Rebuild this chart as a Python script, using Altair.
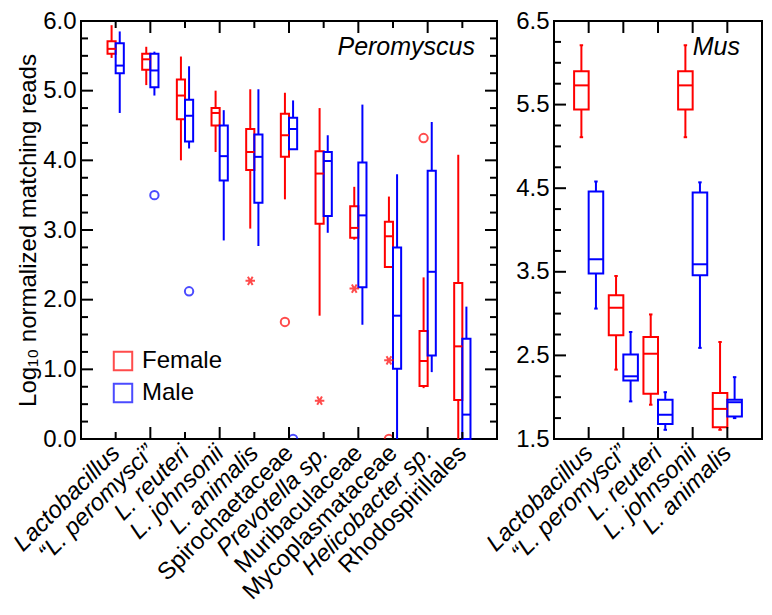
import altair as alt
import pandas as pd

SEXES = ["Female", "Male"]
COLORS = ["#ff0000", "#0000ff"]
FONT = "Liberation Sans"

# ---------------- Peromyscus (left panel) ----------------
per_taxa = ["Lactobacillus", "\u201cL. peromysci\u201d", "L. reuteri", "L. johnsonii",
            "L. animalis", "Spirochaetaceae", "Prevotella sp.", "Muribaculaceae",
            "Mycoplasmataceae", "Helicobacter sp.", "Rhodospirillales"]
# Female: whisker low, Q1, median, Q3, whisker high
pf_wlo = [5.47, 5.08, 4.00, 4.12, 3.02, 3.44, 1.77, 2.86, 2.47, 0.73, 0.00]
pf_q1 = [5.53, 5.30, 4.59, 4.50, 3.86, 4.05, 3.09, 2.89, 2.47, 0.76, 0.56]
pf_med = [5.60, 5.45, 4.93, 4.68, 4.12, 4.36, 3.81, 3.03, 2.91, 1.12, 1.33]
pf_q3 = [5.71, 5.53, 5.16, 4.75, 4.45, 4.67, 4.13, 3.34, 3.12, 1.55, 2.24]
pf_whi = [5.94, 5.63, 5.49, 5.00, 5.02, 4.97, 4.75, 3.62, 3.48, 2.32, 4.08]
# Male
pm_wlo = [4.68, 4.93, 4.17, 2.85, 2.77, 4.16, 2.96, 1.64, 0.00, 0.96, 0.00]
pm_q1 = [5.25, 5.05, 4.27, 3.71, 3.39, 4.16, 3.20, 2.18, 1.01, 1.20, 0.00]
pm_med = [5.36, 5.29, 4.64, 4.06, 4.05, 4.45, 3.99, 3.21, 1.77, 2.40, 0.35]
pm_q3 = [5.68, 5.53, 4.87, 4.50, 4.37, 4.61, 4.12, 3.97, 2.75, 3.85, 1.44]
pm_whi = [5.85, 5.56, 5.35, 4.72, 5.02, 4.86, 4.36, 4.80, 3.80, 4.55, 1.90]
# outliers: taxon index (1-based), sex, value, symbol
per_out_pos = [2, 3, 5, 6, 6, 7, 8, 9, 9, 10]
per_out_sex = ["Male", "Male", "Female", "Female", "Male", "Female", "Female", "Female", "Female", "Female"]
per_out_val = [3.50, 2.12, 2.27, 1.68, 0.00, 0.55, 2.16, 1.13, 0.00, 4.32]
per_out_sym = ["o", "o", "*", "o", "o", "*", "*", "*", "o", "o"]
per_yticks = [0.0, 1.0, 2.0, 3.0, 4.0, 5.0, 6.0]

# ---------------- Mus (right panel) ----------------
mus_taxa = ["Lactobacillus", "\u201cL. peromysci\u201d", "L. reuteri", "L. johnsonii", "L. animalis"]
mf_wlo = [5.11, 2.33, 1.91, 5.11, 1.61]
mf_q1 = [5.44, 2.74, 2.04, 5.44, 1.64]
mf_med = [5.73, 3.07, 2.52, 5.73, 1.86]
mf_q3 = [5.90, 3.22, 2.72, 5.90, 2.05]
mf_whi = [6.21, 3.45, 2.99, 6.21, 2.66]
mm_wlo = [3.06, 1.95, 1.61, 2.59, 1.75]
mm_q1 = [3.48, 2.20, 1.68, 3.46, 1.77]
mm_med = [3.65, 2.25, 1.79, 3.59, 1.94]
mm_q3 = [4.46, 2.51, 1.97, 4.45, 1.97]
mm_whi = [4.58, 2.78, 2.06, 4.57, 2.24]
mus_yticks = [1.5, 2.5, 3.5, 4.5, 5.5, 6.5]

STAR = "M-1,0L1,0M-0.5,-0.866L0.5,0.866M-0.5,0.866L0.5,-0.866"


def box_frame(taxa, f, m):
    rows = []
    for i in range(len(taxa)):
        for sex, s in (("Female", f), ("Male", m)):
            rows.append(dict(pos=i + 1, sex=sex, wlo=s[0][i], q1=s[1][i],
                             med=s[2][i], q3=s[3][i], whi=s[4][i]))
    return pd.DataFrame(rows)


per_box = box_frame(per_taxa, (pf_wlo, pf_q1, pf_med, pf_q3, pf_whi),
                    (pm_wlo, pm_q1, pm_med, pm_q3, pm_whi))
mus_box = box_frame(mus_taxa, (mf_wlo, mf_q1, mf_med, mf_q3, mf_whi),
                    (mm_wlo, mm_q1, mm_med, mm_q3, mm_whi))
per_out = pd.DataFrame(dict(pos=per_out_pos, sex=per_out_sex, val=per_out_val, sym=per_out_sym))


def label_expr(names):
    arr = ",".join("'" + n + "'" for n in names)
    return f"[{arr}][datum.value - 1]"


def panel(box_df, out_df, names, ydom, ylabels, ystep, xmax, width, height, bw,
          label_text, fontstyle, right_ticks, x_minor_alt, caps, legend, ytitle):
    xs = alt.Scale(domain=[0, xmax], nice=False, zero=False)
    ys = alt.Scale(domain=ydom, nice=False, zero=False)
    half = bw / 2
    calc = dict(
        c=f"datum.pos + (datum.sex == 'Female' ? {-half} : {half})",
        xa=f"datum.pos - (datum.sex == 'Female' ? {bw} : 0)",
        xb=f"datum.pos + (datum.sex == 'Female' ? 0 : {bw})",
    )
    sscale = alt.Scale(domain=SEXES, range=COLORS)

    xaxis = alt.Axis(values=list(range(1, len(names) + 1)), labelExpr=label_expr(names),
                     labelAngle=-45, labelAlign="right", labelBaseline="middle",
                     labelFontSize=24, labelFontStyle=fontstyle, labelPadding=10,
                     labelLimit=400, ticks=False, domain=False, grid=False, title=None,
                     labelFont=FONT, labelColor="black", labelOverlap=False)
    yaxis_kw = dict(values=ylabels, format=".1f", ticks=False, domain=False, grid=False,
                    labelFontSize=24, labelPadding=5, labelFont=FONT, labelColor="black")
    if ytitle:
        yaxis = alt.Axis(title=ytitle, titleFontSize=24, titleFontWeight="normal",
                         titleFont=FONT, titlePadding=2, titleColor="black", **yaxis_kw)
    else:
        yaxis = alt.Axis(title=None, **yaxis_kw)

    if legend:
        leg = alt.Legend(
            orient="none", legendX=30, legendY=328, title=None, symbolType="square",
            symbolSize=340, symbolStrokeWidth=2, labelFontSize=24, labelFont=FONT,
            labelColor="black", rowPadding=4, labelOffset=7, padding=0)
    else:
        leg = None

    def X(f):
        return alt.X(f, scale=xs, axis=xaxis)

    def Y(f):
        return alt.Y(f, scale=ys, axis=yaxis)

    def S():
        return alt.Stroke("sex:N", scale=sscale, legend=leg)

    base = alt.Chart(box_df).transform_calculate(**calc)

    boxes = base.mark_rect(filled=False, strokeWidth=2).encode(
        x=X("xa:Q"), x2="xb:Q", y=Y("q1:Q"), y2="q3:Q", stroke=S())
    meds = base.mark_rule(strokeWidth=2).encode(
        x=X("xa:Q"), x2="xb:Q", y=Y("med:Q"), stroke=S())
    wlo = base.mark_rule(strokeWidth=2, clip=True).encode(
        x=X("c:Q"), y=Y("wlo:Q"), y2="q1:Q", stroke=S())
    whi = base.mark_rule(strokeWidth=2, clip=True).encode(
        x=X("c:Q"), y=Y("q3:Q"), y2="whi:Q", stroke=S())
    layers = [boxes, wlo, whi, meds]

    if caps:
        cw = 0.05
        capbase = base.transform_calculate(ca=f"datum.c - {cw}", cb=f"datum.c + {cw}")
        for fld in ("wlo", "whi"):
            layers.append(capbase.mark_rule(strokeWidth=2).encode(
                x=X("ca:Q"), x2="cb:Q", y=Y(f"{fld}:Q"), stroke=S()))

    if out_df is not None:
        ob = alt.Chart(out_df).transform_calculate(**calc)
        layers.append(ob.transform_filter("datum.sym == 'o'").mark_point(
            shape="circle", filled=False, size=70, strokeWidth=2, clip=True).encode(
            x=X("c:Q"), y=Y("val:Q"), stroke=S()))
        layers.append(ob.transform_filter("datum.sym == '*'").mark_point(
            shape=STAR, filled=False, size=90, strokeWidth=2, clip=True).encode(
            x=X("c:Q"), y=Y("val:Q"), stroke=S()))

    # inward ticks
    n_minor = int(round((ydom[1] - ydom[0]) / ystep))
    ymin_vals = [ydom[0] + k * ystep for k in range(n_minor + 1)]
    ymin_vals = [v for v in ymin_vals if all(abs(v - t) > 1e-6 for t in ylabels)]
    tick_layers = []
    for vals, ln in ((ylabels, 12), (ymin_vals, 7)):
        td = alt.Chart(pd.DataFrame({"v": vals}))
        tick_layers.append(td.mark_rule(color="black", strokeWidth=2).encode(
            y=Y("v:Q"), x=alt.value(0), x2=alt.value(ln)))
        if right_ticks:
            tick_layers.append(td.mark_rule(color="black", strokeWidth=2).encode(
                y=Y("v:Q"), x=alt.value(width), x2=alt.value(width - ln)))
    xpos = list(range(1, len(names) + 1))
    if x_minor_alt:
        xmaj = [p for p in xpos if p % 2 == 0]
        xmin = [p for p in xpos if p % 2 == 1]
    else:
        xmaj, xmin = xpos, []
    for vals, ln in ((xmaj, 12), (xmin, 7)):
        if not vals:
            continue
        td = alt.Chart(pd.DataFrame({"p": vals}))
        tick_layers.append(td.mark_rule(color="black", strokeWidth=2).encode(
            x=X("p:Q"), y=alt.value(0), y2=alt.value(ln)))
        tick_layers.append(td.mark_rule(color="black", strokeWidth=2).encode(
            x=X("p:Q"), y=alt.value(height), y2=alt.value(height - ln)))

    txt = alt.Chart(pd.DataFrame({"t": [label_text]})).mark_text(
        align="right", baseline="alphabetic", fontSize=25, fontStyle="italic",
        font=FONT, color="black").encode(
        x=alt.value(width - 22), y=alt.value(34), text="t:N")

    return alt.layer(*layers, *tick_layers, txt).properties(width=width, height=height)


left = panel(per_box, per_out, per_taxa, [0, 6], per_yticks, 0.25, 12, 416, 418, 0.235,
             "Peromyscus",
             {"condition": {"test": "indexof([6, 8, 9, 11], datum.value) < 0", "value": "italic"},
              "value": "normal"},
             True, True, False, True, "Log\u2081\u2080 normalized matching reads")
right = panel(mus_box, None, mus_taxa, [1.5, 6.5], mus_yticks, 0.25, 6, 208, 418, 0.42,
              "Mus", "italic", False, False, True, False, None)

chart = alt.hconcat(left, right, spacing=57).properties(
    bounds="flush",
    padding={"left": 0, "top": 0, "right": 0, "bottom": 0},
).resolve_scale(stroke="independent").resolve_legend(stroke="independent").configure(
    font=FONT).configure_view(stroke="black", strokeWidth=2)

chart.save("out.html", embed_options={"renderer": "svg", "actions": False})
